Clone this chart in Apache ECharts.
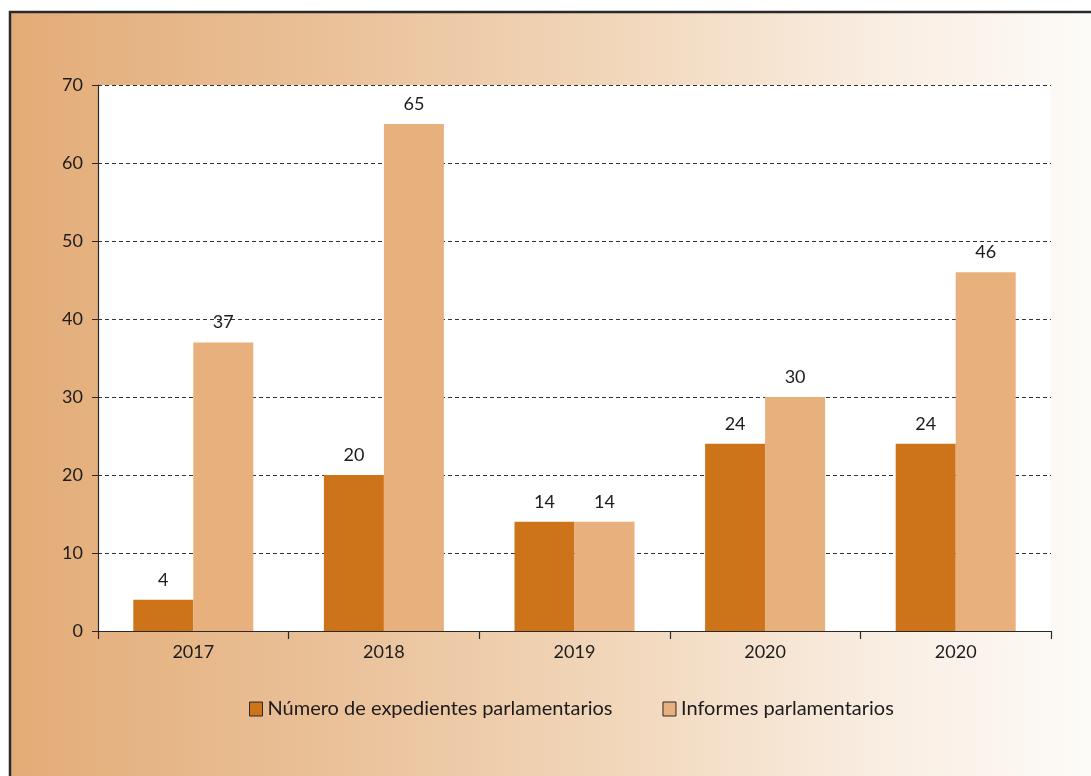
<!DOCTYPE html>
<html>
<head>
<meta charset="utf-8">
<script src="https://cdn.jsdelivr.net/npm/echarts@6/dist/echarts.min.js"></script>
<style>
  html, body { margin: 0; padding: 0; background: #fff; }
  #chart { width: 1091px; height: 776px; }
</style>
</head>
<body>
<div id="chart"></div>
<script>
// 数据
const years = ['2017', '2018', '2019', '2020', '2020']
const expedientes = [4, 20, 14, 24, 24]
const informes = [37, 65, 14, 30, 46]
const seriesNames = ['Número de expedientes parlamentarios', 'Informes parlamentarios']

const FONT = 'Lato'
const TEXT = '#1e1b1c'

const chart = echarts.init(document.getElementById('chart'))

const option = {
  animation: false,
  // 背景渐变 + 左/上边框
  graphic: [
    {
      type: 'rect',
      z: -10,
      shape: { x: 10, y: 12, width: 1081, height: 764 },
      style: {
        fill: new echarts.graphic.LinearGradient(0, 0, 1, 0, [
          { offset: 0, color: '#e3ac77' },
          { offset: 0.3, color: '#eac199' },
          { offset: 0.55, color: '#f1d6b9' },
          { offset: 0.8, color: '#f9ede1' },
          { offset: 1, color: '#fdfbf8' }
        ])
      }
    },
    {
      type: 'polyline',
      z: -9,
      shape: { points: [[10, 776], [10, 12], [1091, 12]] },
      style: { stroke: '#2a2a2a', lineWidth: 2.5, fill: null }
    }
  ],
  grid: {
    left: 98,
    right: 40,
    top: 85,
    bottom: 145,
    show: true,
    backgroundColor: '#fff',
    borderWidth: 0
  },
  legend: {
    bottom: 52,
    left: 244,
    itemWidth: 13,
    itemHeight: 14,
    itemGap: 50,
    icon: 'rect',
    textStyle: { fontFamily: FONT, fontSize: 20, color: TEXT },
    itemStyle: { borderColor: '#2a2a2a', borderWidth: 1 }
  },
  xAxis: {
    type: 'category',
    data: years,
    axisLine: { lineStyle: { color: '#2a2a2a', width: 1.2 } },
    axisTick: { show: true, length: 8, lineStyle: { color: '#2a2a2a', width: 1.2 } },
    axisLabel: { fontFamily: FONT, fontSize: 18, color: TEXT, margin: 12 }
  },
  yAxis: {
    type: 'value',
    min: 0,
    max: 70,
    interval: 10,
    axisLine: { show: true, lineStyle: { color: '#2a2a2a', width: 1.2 } },
    axisTick: { show: true, length: 6, lineStyle: { color: '#2a2a2a' } },
    axisLabel: { fontFamily: FONT, fontSize: 18, color: TEXT, margin: 15 },
    splitLine: { lineStyle: { type: [4, 3], color: '#333', width: 1 } }
  },
  series: [
    {
      name: seriesNames[0],
      type: 'bar',
      data: expedientes,
      barWidth: 60,
      barGap: 0,
      itemStyle: { color: '#cd7319' },
      label: { show: true, position: 'top', distance: 11, fontFamily: FONT, fontSize: 18, color: TEXT }
    },
    {
      name: seriesNames[1],
      type: 'bar',
      data: informes,
      barWidth: 60,
      barGap: 0,
      itemStyle: { color: '#e8b07c' },
      label: { show: true, position: 'top', distance: 11, fontFamily: FONT, fontSize: 18, color: TEXT }
    }
  ]
}

chart.setOption(option)
</script>
</body>
</html>
